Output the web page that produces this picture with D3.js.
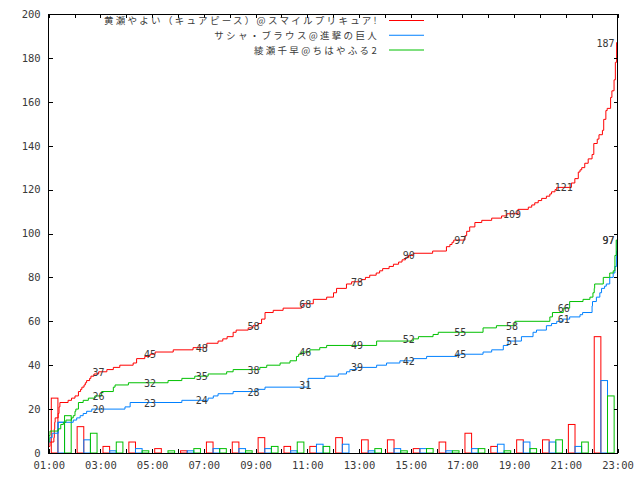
<!DOCTYPE html>
<html><head><meta charset="utf-8">
<script src="https://cdn.jsdelivr.net/npm/d3@7"></script>
<style>body{margin:0;background:#fff}</style>
</head><body>
<script>
// ---------- data ----------
const seriesNames = ["黄瀬やよい（キュアピース）@スマイルプリキュア!", "サシャ・ブラウス@進撃の巨人", "綾瀬千早@ちはやふる2"];
const seriesColors = ["#ff0000", "#0080ff", "#00c000"];
const barHours = [1,2,3,4,5,6,7,8,9,10,11,12,13,14,15,16,17,18,19,20,21,22];
const redCounts   = [25,12,3,5,2,1,5,5,7,3,3,7,6,6,2,5,9,3,6,6,13,53];
const blueCounts  = [14,6,1,2,0,1,2,2,2,1,4,4,1,2,2,1,2,4,5,5,3,33];
const greenCounts = [17,9,5,1,1,2,2,1,3,5,3,0,2,1,2,1,2,1,2,6,5,26];
const labelHours = [3,5,7,9,11,13,15,17,19,21,23];
const xTickHours = [1,2,3,4,5,6,7,8,9,10,11,12,13,14,15,16,17,18,19,20,21,22,23];
const yTicks = [0,20,40,60,80,100,120,140,160,180,200];

const redSteps = [["01:00",3],["01:03",5],["01:12",7],["01:13",11],["01:14",14],["01:15",16],["01:22",18],["01:24",21],["01:26",23],["01:45",24],["01:53",25],["02:01",26],["02:09",28],["02:14",29],["02:17",30],["02:22",31],["02:25",32],["02:28",33],["02:35",34],["02:38",35],["02:45",36],["02:56",37],["03:15",38],["03:30",39],["03:45",40],["04:16",41],["04:24",43],["04:43",44],["04:55",45],["05:07",46],["05:49",47],["06:35",48],["07:07",50],["07:33",51],["07:44",52],["07:54",53],["08:08",55],["08:15",56],["08:43",57],["08:54",58],["09:06",59],["09:14",61],["09:22",64],["09:41",65],["10:04",66],["10:47",67],["10:51",68],["11:14",70],["11:45",71],["12:01",73],["12:08",75],["12:31",77],["12:43",78],["13:05",79],["13:15",80],["13:25",81],["13:40",82],["13:48",83],["13:55",84],["14:10",85],["14:20",86],["14:32",87],["14:40",88],["14:48",89],["14:55",90],["15:06",91],["15:51",92],["16:23",94],["16:31",95],["16:36",96],["16:40",97],["17:06",99],["17:10",101],["17:17",103],["17:29",105],["17:45",106],["18:08",107],["18:31",108],["18:43",109],["19:09",111],["19:33",112],["19:41",113],["19:48",114],["19:56",115],["20:04",116],["20:15",117],["20:23",118],["20:27",119],["20:35",120],["20:39",121],["21:13",123],["21:21",125],["21:29",128],["21:33",129],["21:37",130],["21:44",132],["21:52",134],["22:01",136],["22:05",141],["22:13",143],["22:17",145],["22:25",147],["22:28",152],["22:33",156],["22:36",157],["22:44",162],["22:47",165],["22:52",170],["22:55",178],["22:58",187]];
const blueSteps = [["01:00",5],["01:03",7],["01:08",9],["01:22",14],["01:57",15],["02:05",16],["02:13",17],["02:20",18],["02:28",19],["02:40",20],["03:57",21],["04:09",23],["06:09",24],["07:10",25],["07:22",26],["07:33",27],["08:08",28],["09:03",29],["09:22",30],["11:02",34],["11:41",35],["12:12",36],["12:31",37],["12:39",38],["12:55",39],["13:41",40],["14:04",41],["14:35",42],["15:06",43],["15:37",44],["16:47",45],["17:48",46],["18:08",47],["18:35",49],["18:46",51],["19:17",53],["19:44",55],["19:52",56],["20:15",58],["20:27",59],["20:39",60],["20:54",61],["21:09",62],["21:33",63],["21:39",64],["22:01",67],["22:02",69],["22:11",71],["22:19",73],["22:23",75],["22:30",76],["22:34",77],["22:42",80],["22:50",82],["22:54",85],["22:58",92],["22:59",97]];
const greenSteps = [["01:00",5],["01:01",8],["01:03",10],["01:22",11],["01:28",13],["01:34",14],["01:40",15],["01:53",16],["01:57",17],["02:01",19],["02:03",20],["02:09",23],["02:20",24],["02:32",25],["02:47",26],["03:03",28],["03:30",30],["03:34",31],["04:05",32],["05:37",33],["06:09",34],["06:39",35],["07:10",36],["07:53",37],["08:08",38],["09:10",39],["09:26",40],["09:57",41],["10:20",42],["10:35",44],["10:40",45],["10:47",46],["11:06",47],["11:29",48],["11:45",49],["13:41",51],["15:06",52],["15:18",53],["15:52",54],["16:04",55],["17:48",57],["18:19",58],["19:02",60],["20:23",62],["20:29",64],["20:54",66],["21:09",69],["21:40",70],["21:56",71],["22:03",73],["22:06",75],["22:07",77],["22:27",80],["22:42",82],["22:50",83],["22:54",90],["22:57",97]];

// ---------- setup ----------
const W = 640, H = 480;
const monoFont = "'DejaVu Sans Mono', monospace";
const svg = d3.select("body").append("svg").attr("width", W).attr("height", H)
  .style("font-family", monoFont);

const x = d3.scaleLinear().domain([1, 23]).range([48.7, 617.5]);
const y = d3.scaleLinear().domain([0, 200]).range([453, 14]);
const band = d3.scaleBand().domain([0,1,2]).range([0.1, 0.87]);
const parseT = s => { const [h, m] = s.split(":").map(Number); return h + m / 60; };
const pad = n => (n < 10 ? "0" : "") + n;

const textColor = "#3a3a3a";

// bars
const counts = [redCounts, blueCounts, greenCounts];
counts.forEach((arr, si) => {
  svg.append("g").selectAll("rect").data(barHours.map((h, i) => ({h, v: arr[i]})).filter(d => d.v > 0))
    .join("rect")
    .attr("x", d => x(d.h + band(si)))
    .attr("width", d => x(d.h + band(si) + band.bandwidth()) - x(d.h + band(si)))
    .attr("y", d => y(d.v))
    .attr("height", d => y(0) - y(d.v))
    .attr("fill", "none")
    .attr("stroke", seriesColors[si])
    .attr("stroke-width", 1);
});

// step lines
const steps = [redSteps, blueSteps, greenSteps];
const line = d3.line().x(d => x(d[0])).y(d => y(d[1])).curve(d3.curveStepAfter);
steps.forEach((arr, si) => {
  const pts = arr.map(d => [parseT(d[0]), d[1]]);
  pts.push([23, arr[arr.length - 1][1]]);
  svg.append("path").attr("d", line(pts)).attr("fill", "none")
    .attr("stroke", seriesColors[si]).attr("stroke-width", 1);
});

// value labels (cumulative count at odd hours)
counts.forEach((arr, si) => {
  const cum = d3.cumsum(arr);
  labelHours.forEach(h => {
    const v = cum[h - 2];
    const last = h === 23;
    svg.append("text")
      .attr("x", last ? x(h) - 3 : x(h) - 2)
      .attr("y", y(v) + 4)
      .attr("text-anchor", last ? "end" : "middle")
      .attr("font-size", 10).attr("fill", textColor)
      .text(v);
  });
});

// axes
function styleAxis(g) {
  g.select(".domain").remove();
  g.selectAll("line").attr("stroke", "#000").attr("shape-rendering", "crispEdges");
  g.selectAll("text").attr("fill", textColor).attr("font-size", 10.5)
    .style("font-family", monoFont);
}
svg.append("g").attr("transform", `translate(0,${y(0)})`)
  .call(d3.axisBottom(x).tickValues(xTickHours).tickSize(-4).tickPadding(9)
    .tickFormat(d => d % 2 ? pad(d) + ":00" : ""))
  .call(styleAxis);
svg.append("g").attr("transform", `translate(0,${y(200)})`)
  .call(d3.axisTop(x).tickValues(xTickHours).tickSize(-4).tickFormat(""))
  .call(styleAxis);
svg.append("g").attr("transform", `translate(${x(1)},0)`)
  .call(d3.axisLeft(y).tickValues(yTicks).tickSize(-4).tickPadding(8))
  .call(styleAxis);
svg.append("g").attr("transform", `translate(${x(23)},0)`)
  .call(d3.axisRight(y).tickValues(yTicks).tickSize(-4).tickFormat(""))
  .call(styleAxis);

// frame
svg.append("rect").attr("x", x(1)).attr("y", y(200))
  .attr("width", x(23) - x(1)).attr("height", y(0) - y(200))
  .attr("fill", "none").attr("stroke", "#000").attr("stroke-width", 1)
  .attr("shape-rendering", "crispEdges");

// legend
const lg = svg.append("g");
seriesNames.forEach((name, i) => {
  const ly = 20.5 + i * 14.75;
  lg.append("text").attr("x", 379).attr("y", ly + 3.5).attr("text-anchor", "end")
    .attr("font-size", 9.5).attr("fill", textColor)
    .attr("letter-spacing", 2.3)
    .style("font-family", "'Noto Sans CJK JP', sans-serif")
    .text(name);
  lg.append("line").attr("x1", 389).attr("x2", 424).attr("y1", ly).attr("y2", ly)
    .attr("stroke", seriesColors[i]).attr("stroke-width", 1);
});
</script>
</body></html>
